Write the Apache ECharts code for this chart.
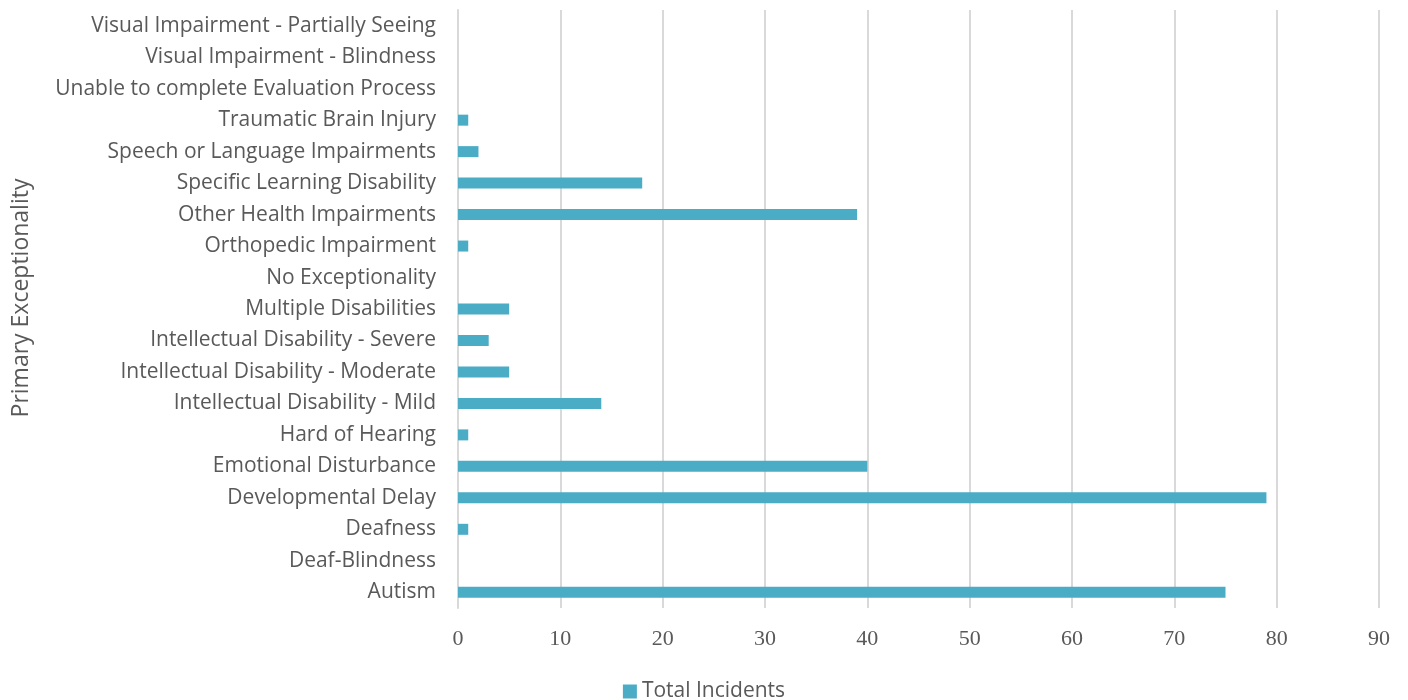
<!DOCTYPE html>
<html><head><meta charset="utf-8">
<script src="https://cdn.jsdelivr.net/npm/echarts@6/dist/echarts.min.js"></script>
<style>html,body{margin:0;padding:0;background:#fff}#c{width:1408px;height:700px}</style>
</head><body><div id="c"></div>
<script>
const categories = ["Autism","Deaf-Blindness","Deafness","Developmental Delay","Emotional Disturbance","Hard of Hearing","Intellectual Disability - Mild","Intellectual Disability - Moderate","Intellectual Disability - Severe","Multiple Disabilities","No Exceptionality","Orthopedic Impairment","Other Health Impairments","Specific Learning Disability","Speech or Language Impairments","Traumatic Brain Injury","Unable to complete Evaluation Process","Visual Impairment - Blindness","Visual Impairment - Partially Seeing"];
const totalIncidents = [75,0,1,79,40,1,14,5,3,5,0,1,39,18,2,1,0,0,0];
const seriesName = "Total Incidents";
const axisName = "Primary Exceptionality";

const chart = echarts.init(document.getElementById('c'), null, {renderer:'canvas'});
chart.setOption({
  animation:false,
  grid:{left:458,right:29,top:10,bottom:92,containLabel:false},
  legend:{top:676,left:'center',itemWidth:14,itemHeight:14,icon:'rect',itemGap:10,
    textStyle:{fontFamily:'Open Sans',fontSize:21,color:'#595959'},data:[seriesName]},
  xAxis:{type:'value',min:0,max:90,interval:10,
    axisLine:{show:false},axisTick:{show:false},
    axisLabel:{margin:20,fontFamily:'Liberation Serif',fontSize:22,color:'#595959'},
    splitLine:{show:true,lineStyle:{color:'#d9d9d9',width:2}}},
  yAxis:{type:'category',data:categories,
    name:axisName,nameLocation:'middle',nameGap:425,nameRotate:90,
    nameTextStyle:{fontFamily:'Open Sans',fontSize:23,color:'#595959',padding:[0,0,0,22]},
    axisLine:{show:true,lineStyle:{color:'#d9d9d9',width:2}},axisTick:{show:false},
    axisLabel:{margin:22,fontFamily:'Open Sans',fontSize:21,color:'#595959'}},
  series:[{name:seriesName,type:'bar',data:totalIncidents,barWidth:11,
    itemStyle:{color:'#4BACC6'}}]
});
</script></body></html>
